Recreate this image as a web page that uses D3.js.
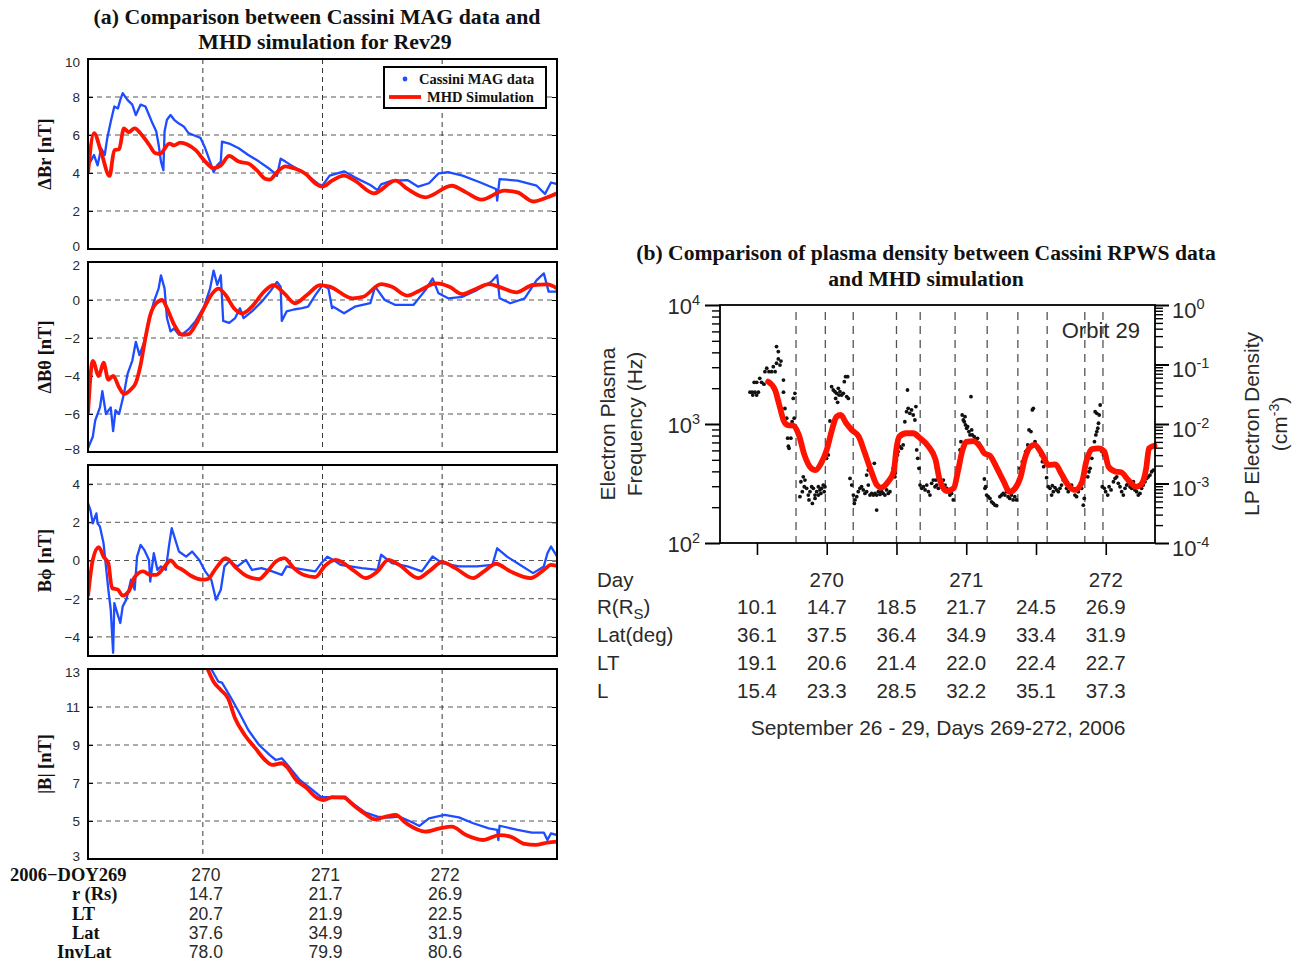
<!DOCTYPE html>
<html>
<head>
<meta charset="utf-8">
<script src="https://cdn.jsdelivr.net/npm/d3@7"></script>
<style>
body { margin: 0; background: #fff; }
.serif { font-family: "Liberation Serif", "Times New Roman", serif; font-weight: bold; fill: #111; }
.sans { font-family: "Liberation Sans", Arial, sans-serif; fill: #2a2a2a; }
</style>
</head>
<body>
<div id="chart"></div>
<script>
// ---- (a) MAG vs MHD, x in day of year 2006 ----
var brTicks = [0, 2, 4, 6, 8, 10];
var bthTicks = [-8, -6, -4, -2, 0, 2];
var bphTicks = [-4, -2, 0, 2, 4];
var bTicks = [3, 5, 7, 9, 11, 13];
var magDayTicks = [270, 271, 272];

var brMag = [[269.04,4.95],[269.06,4.6],[269.09,4.95],[269.12,4.4],[269.15,5.3],[269.18,4.95],[269.20,5.8],[269.23,6.7],[269.26,7.5],[269.29,7.4],[269.31,7.85],[269.33,8.2],[269.37,7.85],[269.41,7.6],[269.44,7.05],[269.48,7.6],[269.52,7.5],[269.55,7.05],[269.58,6.6],[269.61,6.2],[269.63,5.5],[269.65,4.6],[269.67,4.15],[269.68,6.2],[269.70,6.8],[269.73,7.05],[269.76,6.8],[269.80,6.6],[269.84,6.45],[269.88,6.1],[269.94,5.95],[269.98,5.85],[270.02,5.3],[270.06,4.6],[270.09,4.05],[270.12,4.4],[270.15,4.6],[270.16,5.65],[270.22,5.55],[270.30,5.3],[270.38,4.95],[270.47,4.6],[270.55,4.25],[270.59,4.05],[270.62,3.85],[270.65,4.75],[270.69,4.6],[270.74,4.4],[270.81,4.15],[270.88,3.85],[270.97,3.4],[271.0,3.35],[271.06,3.86],[271.18,4.09],[271.27,3.77],[271.40,3.37],[271.46,3.1],[271.49,3.4],[271.58,3.6],[271.71,3.63],[271.80,3.28],[271.89,3.46],[271.97,3.98],[272.05,4.04],[272.17,3.86],[272.32,3.5],[272.45,3.16],[272.46,2.55],[272.48,3.68],[272.63,3.6],[272.79,3.33],[272.86,2.9],[272.91,3.5],[272.96,3.42]];
var brMhd = [[269.04,4.0],[269.09,6.1],[269.15,5.1],[269.22,3.85],[269.26,5.2],[269.30,5.25],[269.34,6.35],[269.38,6.15],[269.43,6.35],[269.49,6.0],[269.55,5.5],[269.60,5.05],[269.64,5.0],[269.72,5.55],[269.76,5.45],[269.81,5.6],[269.87,5.5],[269.94,5.2],[270.02,4.6],[270.09,4.25],[270.15,4.4],[270.22,4.9],[270.30,4.6],[270.38,4.5],[270.45,4.15],[270.52,3.7],[270.56,3.65],[270.62,4.05],[270.69,4.35],[270.76,4.25],[270.86,3.95],[270.94,3.45],[271.0,3.28],[271.08,3.6],[271.18,3.86],[271.27,3.6],[271.43,2.93],[271.61,3.6],[271.71,3.16],[271.86,2.72],[272.08,3.33],[272.20,2.98],[272.33,2.6],[272.52,3.07],[272.63,2.98],[272.76,2.5],[272.88,2.72],[272.96,2.93]];

var bthMag = [[269.04,-7.8],[269.08,-7.2],[269.10,-6.35],[269.14,-5.65],[269.16,-4.8],[269.19,-6.0],[269.23,-5.65],[269.25,-6.9],[269.27,-5.8],[269.30,-6.0],[269.34,-4.95],[269.37,-3.9],[269.41,-3.2],[269.44,-2.2],[269.47,-2.9],[269.51,-2.2],[269.55,-1.1],[269.59,-0.1],[269.63,0.6],[269.65,1.3],[269.68,0.6],[269.70,-0.95],[269.73,-1.65],[269.76,-1.5],[269.80,-1.83],[269.84,-1.75],[269.88,-1.55],[269.94,-1.1],[270.01,-0.35],[270.06,0.6],[270.09,1.55],[270.12,0.8],[270.15,1.3],[270.17,-1.1],[270.22,-1.2],[270.27,-0.95],[270.31,-0.43],[270.34,-0.95],[270.41,-0.6],[270.49,-0.1],[270.56,0.43],[270.62,0.95],[270.65,0.7],[270.66,-1.1],[270.70,-0.6],[270.76,-0.5],[270.83,-0.43],[270.88,-0.35],[270.94,0.26],[271.0,0.78],[271.05,0.6],[271.08,-0.43],[271.09,-0.35],[271.18,-0.7],[271.27,-0.35],[271.40,-0.17],[271.44,0.7],[271.52,0.0],[271.61,-0.26],[271.76,-0.26],[271.86,0.52],[271.92,1.13],[271.97,0.35],[272.05,0.09],[272.17,0.17],[272.29,0.52],[272.41,0.96],[272.46,1.3],[272.48,0.09],[272.57,-0.17],[272.69,0.09],[272.79,1.05],[272.85,1.4],[272.89,0.44],[272.96,0.44]];
var bthMhd = [[269.04,-6.0],[269.08,-3.2],[269.13,-4.0],[269.17,-3.3],[269.21,-4.2],[269.25,-4.0],[269.30,-4.6],[269.34,-4.95],[269.40,-4.7],[269.44,-4.35],[269.48,-3.4],[269.52,-2.0],[269.56,-0.8],[269.61,-0.17],[269.66,0.0],[269.70,-0.43],[269.76,-1.3],[269.83,-1.83],[269.88,-1.8],[269.94,-1.3],[270.01,-0.43],[270.08,0.35],[270.13,0.6],[270.19,0.26],[270.26,-0.43],[270.33,-0.7],[270.41,-0.35],[270.51,0.43],[270.59,0.78],[270.68,0.35],[270.77,-0.17],[270.87,0.26],[270.98,0.78],[271.06,0.7],[271.25,0.09],[271.34,0.17],[271.49,0.84],[271.58,0.7],[271.71,0.23],[271.81,0.49],[271.95,0.87],[272.06,0.7],[272.17,0.31],[272.29,0.61],[272.39,0.84],[272.51,0.61],[272.62,0.4],[272.76,0.79],[272.88,0.82],[272.96,0.61]];

var bphMag = [[269.04,3.0],[269.06,2.64],[269.08,1.95],[269.11,2.47],[269.12,1.95],[269.14,1.77],[269.17,0.9],[269.19,-0.31],[269.21,-1.53],[269.23,-2.57],[269.25,-4.83],[269.26,-2.23],[269.28,-2.66],[269.31,-3.27],[269.33,-2.4],[269.36,-2.05],[269.38,-1.53],[269.40,-1.0],[269.43,-1.53],[269.45,0.2],[269.48,0.82],[269.51,0.56],[269.55,0.03],[269.56,-1.1],[269.59,0.38],[269.62,-0.49],[269.65,-0.31],[269.69,-0.49],[269.72,0.9],[269.74,1.69],[269.77,1.08],[269.80,0.47],[269.86,0.2],[269.91,0.47],[269.97,0.03],[270.02,-0.57],[270.07,-1.0],[270.11,-2.05],[270.15,-1.53],[270.18,-0.31],[270.22,-0.05],[270.29,-0.31],[270.36,0.03],[270.41,-0.49],[270.49,-0.4],[270.58,-0.57],[270.66,-0.75],[270.70,-0.31],[270.77,-0.4],[270.86,-0.49],[270.94,-0.57],[270.99,-0.14],[271.04,0.2],[271.09,0.03],[271.15,-0.23],[271.33,-0.4],[271.46,-0.49],[271.49,0.3],[271.58,-0.14],[271.71,-0.31],[271.83,-0.57],[271.92,0.21],[272.0,-0.14],[272.14,-0.31],[272.29,-0.31],[272.42,-0.23],[272.46,0.64],[272.54,0.21],[272.63,-0.14],[272.76,-0.66],[272.85,-0.31],[272.88,0.38],[272.91,0.73],[272.96,0.21]];
var bphMhd = [[269.04,-1.88],[269.08,0.03],[269.13,0.7],[269.17,0.2],[269.21,-0.14],[269.24,-1.44],[269.29,-1.53],[269.33,-1.84],[269.38,-1.62],[269.43,-0.87],[269.50,-0.57],[269.56,-0.75],[269.61,-0.75],[269.67,-0.4],[269.73,0.0],[269.78,-0.31],[269.83,-0.49],[269.90,-0.8],[269.99,-1.0],[270.04,-0.97],[270.11,-0.4],[270.19,0.12],[270.28,-0.4],[270.37,-0.83],[270.47,-0.97],[270.54,-0.57],[270.61,-0.05],[270.68,0.12],[270.76,-0.4],[270.84,-0.75],[270.94,-0.87],[271.02,-0.28],[271.11,0.03],[271.27,-0.57],[271.36,-0.92],[271.46,-0.57],[271.55,0.03],[271.64,-0.23],[271.80,-0.92],[271.89,-0.57],[272.0,-0.09],[272.11,-0.4],[272.26,-0.92],[272.35,-0.57],[272.45,-0.17],[272.57,-0.57],[272.74,-0.92],[272.85,-0.49],[272.91,-0.23],[272.96,-0.28]];

var bMag = [[270.05,13.4],[270.07,13.0],[270.13,12.33],[270.16,12.28],[270.23,11.54],[270.30,10.75],[270.38,9.79],[270.47,9.0],[270.56,8.47],[270.61,8.21],[270.66,8.3],[270.72,7.86],[270.81,7.16],[270.90,6.72],[270.99,6.25],[271.08,6.25],[271.19,6.28],[271.27,5.84],[271.36,5.44],[271.46,5.23],[271.55,5.18],[271.64,5.23],[271.74,4.96],[271.81,4.74],[271.89,5.14],[272.02,5.32],[272.14,5.19],[272.26,4.88],[272.39,4.61],[272.46,4.53],[272.47,4.0],[272.48,4.75],[272.63,4.53],[272.75,4.39],[272.85,4.39],[272.88,4.0],[272.91,4.35],[272.96,4.26]];
var bMhd = [[270.0,13.6],[270.04,13.0],[270.09,12.33],[270.15,11.9],[270.21,11.46],[270.27,10.4],[270.35,9.53],[270.44,8.82],[270.52,8.21],[270.58,7.95],[270.66,8.04],[270.70,7.86],[270.78,7.16],[270.87,6.72],[270.94,6.28],[271.01,6.1],[271.08,6.25],[271.18,6.23],[271.24,5.93],[271.35,5.4],[271.44,5.09],[271.53,5.23],[271.61,5.32],[271.70,4.88],[271.86,4.44],[271.98,4.61],[272.08,4.7],[272.20,4.26],[272.34,4.0],[272.48,4.26],[272.57,4.18],[272.69,3.79],[272.78,3.74],[272.88,3.86],[272.96,3.91]];

var magRowLabels = ["2006\u2212DOY269", "r (Rs)", "LT", "Lat", "InvLat"];
var magRowValues = [
  ["270", "271", "272"],
  ["14.7", "21.7", "26.9"],
  ["20.7", "21.9", "22.5"],
  ["37.6", "34.9", "31.9"],
  ["78.0", "79.9", "80.6"]
];

// ---- (b) RPWS density ----
var freqMajor = [100, 1000, 10000];
var densMajor = [1e-4, 1e-3, 1e-2, 1e-1, 1];
var rpwsDayTicks = [269.5, 270, 270.5, 271, 271.5, 272];
var crossDays = [269.78, 269.99, 270.19, 270.50, 270.67, 270.92, 271.15, 271.37, 271.58, 271.85, 271.98];

var rpwsMhd = [[269.58,2270],[269.63,1930],[269.66,1445],[269.69,1080],[269.72,980],[269.76,970],[269.80,810],[269.84,550],[269.88,437],[269.92,410],[269.96,468],[270.0,605],[270.04,915],[270.07,1150],[270.10,1190],[270.14,1015],[270.18,890],[270.23,783],[270.27,585],[270.32,398],[270.36,307],[270.39,292],[270.44,327],[270.48,398],[270.50,625],[270.52,783],[270.57,836],[270.62,836],[270.67,758],[270.73,645],[270.78,500],[270.81,339],[270.86,273],[270.91,288],[270.94,398],[270.97,585],[271.0,707],[271.05,719],[271.10,645],[271.13,567],[271.17,542],[271.22,425],[271.27,327],[271.31,269],[271.35,288],[271.39,361],[271.42,513],[271.46,645],[271.49,667],[271.54,567],[271.59,452],[271.64,458],[271.68,385],[271.73,307],[271.78,279],[271.83,327],[271.86,482],[271.90,616],[271.95,625],[271.99,585],[272.02,437],[272.07,398],[272.11,393],[272.16,339],[272.22,297],[272.25,307],[272.29,425],[272.31,625],[272.35,658]];

var rpwsDots = [
  [269.45,1850],[269.466,1850],[269.486,1850],[269.47,1750],[269.498,1750],[269.51,1850],[269.48,2240],[269.498,2240],[269.52,2420],[269.533,2240],[269.55,2160],[269.557,2750],[269.57,2940],[269.586,2750],[269.605,2750],[269.617,3030],[269.63,2750],[269.64,3240],[269.653,3520],[269.665,3130],[269.64,4470],[269.653,4060],[269.672,3380],[269.69,2340],[269.69,1850],[269.70,1350],[269.713,1120],[269.72,760],[269.73,625],[269.743,760],[269.76,1640],[269.772,1810],[269.767,1120],[269.752,1045],[269.725,650],
  [269.815,327],[269.832,360],[269.844,338],[269.825,270],[269.808,245],[269.856,288],[269.868,253],[269.88,270],[269.892,297],[269.904,288],[269.916,253],[269.928,270],[269.94,297],[269.951,279],[269.963,288],[269.975,307],[269.987,297],[269.873,230],[269.897,215],[269.916,237],[269.94,253],[269.839,297],[269.958,261],[269.982,270],[269.999,515],[270.011,550],
  [270.035,2060],[270.047,1930],[270.059,1870],[270.071,1810],[270.083,1995],[270.095,1870],[270.107,1750],[270.119,1810],[270.126,2270],[270.135,2500],[270.15,2500],[270.064,1640],[270.078,1520],[270.088,1750],[270.143,1700],[270.155,1640],[270.023,1060],
  [270.167,349],[270.179,307],[270.191,253],[270.203,230],[270.215,245],[270.226,270],[270.238,288],[270.25,297],[270.262,279],[270.274,261],[270.286,270],[270.298,307],[270.31,253],[270.322,261],[270.334,253],[270.346,261],[270.358,253],[270.37,270],[270.382,256],[270.394,270],[270.405,261],[270.417,253],[270.429,279],[270.441,261],[270.453,270],[270.198,215],[270.358,189],[270.286,372],[270.298,410],[270.341,467],
  [270.477,424],[270.489,360],[270.5,499],[270.507,550],[270.512,586],[270.524,645],[270.536,625],[270.548,667],[270.56,1045],[270.572,1270],[270.579,1930],[270.584,1354],[270.596,1230],[270.608,1313],[270.62,1190],[270.632,1080],[270.639,1400],[270.489,384],
  [270.645,605],[270.652,515],[270.661,424],[270.669,307],[270.681,288],[270.693,297],[270.705,279],[270.717,307],[270.729,270],[270.74,253],[270.752,317],[270.764,338],[270.776,297],[270.788,307],[270.8,288],
  [270.788,424],[270.8,360],[270.812,327],[270.824,297],[270.836,338],[270.848,307],[270.86,288],[270.872,270],[270.883,253],[270.895,261],[270.907,230],[270.783,338],
  [270.955,605],[270.962,711],[270.971,1190],[270.979,1080],[270.986,1045],[270.995,982],[271.003,921],[271.01,951],[271.019,863],[271.027,809],[271.039,891],[271.043,809],[271.057,783],[271.063,735],[271.074,711],[271.081,758],[271.091,689],[271.098,667],[271.105,625],[271.115,586],[271.034,1698],[270.991,1153],
  [271.13,345],[271.134,288],[271.139,297],[271.146,253],[271.158,245],[271.17,237],[271.182,222],[271.194,215],[271.206,208],[271.218,206],[271.241,245],[271.253,253],[271.265,261],[271.277,253],[271.289,270],[271.3,245],[271.312,237],[271.324,253],[271.336,230],[271.348,245],[271.36,230],
  [271.385,424],[271.402,482],[271.417,515],[271.426,586],[271.441,667],[271.45,891],[271.464,863],[271.474,1313],[271.481,1354],[271.493,711],[271.505,645],[271.517,625],[271.529,586],[271.536,550],[271.546,482],[271.555,438],
  [271.576,354],[271.588,297],[271.6,288],[271.612,253],[271.617,303],[271.624,270],[271.636,292],[271.648,279],[271.66,270],[271.672,288],[271.683,307],[271.695,338],[271.707,327],[271.719,288],[271.731,270],[271.743,297],[271.755,307],[271.767,279],[271.779,253],[271.791,245],[271.803,270],[271.827,288],[271.839,208],[271.846,237],
  [271.871,360],[271.88,397],[271.888,424],[271.9,515],[271.912,625],[271.919,711],[271.929,809],[271.936,863],[271.943,921],[271.948,1015],[271.953,1190],[271.924,1270],[271.936,1230],[271.96,1445],[271.972,586],[271.984,550],
  [271.975,297],[271.99,288],[271.999,270],[272.014,253],[272.024,297],[272.038,279],[272.055,327],[272.067,349],[272.079,360],[272.09,317],[272.102,297],[272.114,270],[272.126,253],[272.138,288],[272.15,307],[272.162,317],[272.174,297],[272.186,288],[272.198,327],[272.209,279],[272.221,270],[272.233,253],[272.245,261],[272.257,288],[272.269,307],[272.281,327],[272.293,349],[272.305,360],[272.317,372],[272.329,397],[272.341,410],[272.086,397]
];

var rpwsRowLabels = ["Day", "R(R", "Lat(deg)", "LT", "L"];
var rpwsDayLabels = [["270", 270], ["271", 271], ["272", 272]];
var rpwsRowValues = [
  ["10.1", "14.7", "18.5", "21.7", "24.5", "26.9"],
  ["36.1", "37.5", "36.4", "34.9", "33.4", "31.9"],
  ["19.1", "20.6", "21.4", "22.0", "22.4", "22.7"],
  ["15.4", "23.3", "28.5", "32.2", "35.1", "37.3"]
];

var W = 1302, H = 962;
var BLUE = "#1e4cff", RED = "#ff1200";

var svg = d3.select("#chart").append("svg")
  .attr("width", W)
  .attr("height", H);

// ================= panel (a) =================
var magX = d3.scaleLinear().domain([269.04, 272.96]).range([88, 557]);

svg.append("text").attr("class", "serif")
  .attr("x", 317).attr("y", 24).attr("text-anchor", "middle")
  .style("font-size", "21.8px")
  .text("(a) Comparison between Cassini MAG data and");
svg.append("text").attr("class", "serif")
  .attr("x", 325).attr("y", 49).attr("text-anchor", "middle")
  .style("font-size", "21.8px")
  .text("MHD simulation for Rev29");

var magPanels = [
  { label: "\u0394Br [nT]", ticks: brTicks, top: 59, bottom: 249, mag: brMag, mhd: brMhd },
  { label: "\u0394B\u03b8 [nT]", ticks: bthTicks, top: 262, bottom: 452, mag: bthMag, mhd: bthMhd },
  { label: "B\u03d5 [nT]", ticks: bphTicks, top: 465, bottom: 656, mag: bphMag, mhd: bphMhd, domain: [-5, 5] },
  { label: "|B| [nT]", ticks: bTicks, top: 669, bottom: 859, mag: bMag, mhd: bMhd }
];

function fmtMinus (v) {
  return v < 0 ? "\u2212" + Math.abs(v) : String(v);
}

magPanels.forEach(function (p, i) {
  var dom = p.domain || [d3.min(p.ticks), d3.max(p.ticks)];
  var y = d3.scaleLinear().domain(dom).range([p.bottom, p.top]);
  var g = svg.append("g");
  var clipId = "clip" + i;

  g.append("clipPath").attr("id", clipId)
    .append("rect")
    .attr("x", magX.range()[0]).attr("y", p.top)
    .attr("width", magX.range()[1] - magX.range()[0])
    .attr("height", p.bottom - p.top);

  // dashed grid
  g.selectAll(".hgrid")
    .data(p.ticks.filter(function (t) { return t > dom[0] && t < dom[1]; }))
    .enter().append("line")
    .attr("x1", magX.range()[0]).attr("x2", magX.range()[1])
    .attr("y1", function (d) { return y(d); })
    .attr("y2", function (d) { return y(d); })
    .attr("stroke", "#444").attr("stroke-width", 0.9)
    .attr("stroke-dasharray", "5,4");

  g.selectAll(".vgrid")
    .data(magDayTicks)
    .enter().append("line")
    .attr("x1", function (d) { return magX(d); })
    .attr("x2", function (d) { return magX(d); })
    .attr("y1", p.top).attr("y2", p.bottom)
    .attr("stroke", "#222").attr("stroke-width", 0.9)
    .attr("stroke-dasharray", "5,4");

  // ticks both sides, pointing inward
  var left = g.append("g")
    .attr("transform", "translate(" + magX.range()[0] + ",0)")
    .call(d3.axisLeft(y).tickValues(p.ticks).tickSizeInner(-5).tickSizeOuter(0).tickPadding(8).tickFormat(fmtMinus));
  left.select(".domain").remove();
  left.selectAll("text").attr("class", "sans").style("font-size", "13.5px").attr("fill", "#333")
    .attr("dy", function (d) {
      // keep the labels that sit on a panel edge apart from the neighbour panel's
      if (d === dom[0]) return "0.12em";
      if (d === dom[1]) return "0.52em";
      return "0.32em";
    });

  var right = g.append("g")
    .attr("transform", "translate(" + magX.range()[1] + ",0)")
    .call(d3.axisRight(y).tickValues(p.ticks).tickSizeInner(-5).tickSizeOuter(0).tickFormat(""));
  right.select(".domain").remove();

  var lines = g.append("g").attr("clip-path", "url(#" + clipId + ")");

  lines.append("path")
    .datum(p.mag)
    .attr("fill", "none")
    .attr("stroke", BLUE)
    .attr("stroke-width", 2.3)
    .attr("stroke-linejoin", "round")
    .attr("d", d3.line().x(function (d) { return magX(d[0]); }).y(function (d) { return y(d[1]); }));

  lines.append("path")
    .datum(p.mhd)
    .attr("fill", "none")
    .attr("stroke", RED)
    .attr("stroke-width", 3.8)
    .attr("stroke-linejoin", "round")
    .attr("d", d3.line().curve(d3.curveMonotoneX)
      .x(function (d) { return magX(d[0]); }).y(function (d) { return y(d[1]); }));

  g.append("rect")
    .attr("x", magX.range()[0]).attr("y", p.top)
    .attr("width", magX.range()[1] - magX.range()[0])
    .attr("height", p.bottom - p.top)
    .attr("fill", "none").attr("stroke", "#000").attr("stroke-width", 2);

  g.append("text").attr("class", "serif")
    .attr("transform", "translate(51," + ((p.top + p.bottom) / 2) + ") rotate(-90)")
    .attr("text-anchor", "middle")
    .style("font-size", "18.5px")
    .text(p.label);

  if (i === 0) {
    var lg = g.append("g");
    lg.append("rect")
      .attr("x", 384).attr("y", 67).attr("width", 162).attr("height", 41)
      .attr("fill", "#fff").attr("stroke", "#000").attr("stroke-width", 2);
    lg.append("circle").attr("cx", 405).attr("cy", 79).attr("r", 2.4).attr("fill", BLUE);
    lg.append("text").attr("class", "serif").attr("x", 419).attr("y", 84)
      .style("font-size", "14.5px").text("Cassini MAG data");
    lg.append("line").attr("x1", 389).attr("x2", 421).attr("y1", 97).attr("y2", 97)
      .attr("stroke", RED).attr("stroke-width", 3.8);
    lg.append("text").attr("class", "serif").attr("x", 427).attr("y", 102)
      .style("font-size", "14.5px").text("MHD Simulation");
  }
});

// table under (a)
var labelLeft = [10, 72, 72, 72, 57];
magRowLabels.forEach(function (lab, r) {
  var yy = 881 + r * 19.3;
  svg.append("text").attr("class", "serif")
    .attr("x", labelLeft[r]).attr("y", yy)
    .style("font-size", "18.5px")
    .text(lab);
  svg.selectAll(null)
    .data(magRowValues[r])
    .enter().append("text")
    .attr("class", "sans")
    .attr("x", function (d, k) { return magX(magDayTicks[k]) + 3; })
    .attr("y", yy)
    .attr("text-anchor", "middle")
    .style("font-size", "17.5px")
    .text(function (d) { return d; });
});

// ================= panel (b) =================
var bx = d3.scaleLinear().domain([269.235, 272.353]).range([720, 1155]);
var by = d3.scaleLog().domain([100, 10000]).range([543, 305]);
var bn = d3.scaleLog().domain([1e-4, 1]).range([543, 305]);

svg.append("text").attr("class", "serif")
  .attr("x", 926).attr("y", 260).attr("text-anchor", "middle")
  .style("font-size", "21.6px")
  .text("(b) Comparison of plasma density between Cassini RPWS data");
svg.append("text").attr("class", "serif")
  .attr("x", 926).attr("y", 286).attr("text-anchor", "middle")
  .style("font-size", "21.6px")
  .text("and MHD simulation");

var gb = svg.append("g");

gb.selectAll(".cross")
  .data(crossDays)
  .enter().append("line")
  .attr("x1", function (d) { return bx(d); })
  .attr("x2", function (d) { return bx(d); })
  .attr("y1", 312).attr("y2", 543)
  .attr("stroke", "#555").attr("stroke-width", 1.3)
  .attr("stroke-dasharray", "8,6");

gb.selectAll(".dot")
  .data(rpwsDots)
  .enter().append("circle")
  .attr("cx", function (d) { return bx(d[0]); })
  .attr("cy", function (d) { return by(d[1]); })
  .attr("r", 1.9)
  .attr("fill", "#111");

gb.append("path")
  .datum(rpwsMhd)
  .attr("fill", "none")
  .attr("stroke", RED)
  .attr("stroke-width", 5.8)
  .attr("stroke-linecap", "round")
  .attr("stroke-linejoin", "round")
  .attr("d", d3.line().curve(d3.curveMonotoneX)
    .x(function (d) { return bx(d[0]); }).y(function (d) { return by(d[1]); }));

gb.append("rect")
  .attr("x", 720).attr("y", 305).attr("width", 435).attr("height", 238)
  .attr("fill", "none").attr("stroke", "#000").attr("stroke-width", 1.8);

function logMinor (lo, hi) {
  var out = [];
  for (var e = lo; e < hi; e++) {
    for (var m = 2; m <= 9; m++) out.push(m * Math.pow(10, e));
  }
  return out;
}

function supLabels (sel, anchor) {
  sel.each(function (d) {
    var t = d3.select(this);
    var ex = Math.round(Math.log10(d));
    t.text("").attr("text-anchor", anchor).attr("class", "sans").style("font-size", "22px").attr("fill", "#333");
    t.append("tspan").text("10");
    t.append("tspan").attr("dy", "-9").style("font-size", "14.5px").text(ex);
  });
}

var lMinor = gb.append("g").attr("transform", "translate(720,0)")
  .call(d3.axisLeft(by).tickValues(logMinor(2, 4)).tickSize(8).tickFormat(""));
lMinor.select(".domain").remove();
lMinor.selectAll("line").attr("stroke-width", 1.4);

var lMajor = gb.append("g").attr("transform", "translate(720,0)")
  .call(d3.axisLeft(by).tickValues(freqMajor).tickSize(15).tickPadding(5));
lMajor.select(".domain").remove();
lMajor.selectAll("line").attr("stroke-width", 2);
supLabels(lMajor.selectAll("text").attr("dy", "0.4em"), "end");

var rMinor = gb.append("g").attr("transform", "translate(1155,0)")
  .call(d3.axisRight(bn).tickValues(logMinor(-4, 0)).tickSize(8).tickFormat(""));
rMinor.select(".domain").remove();
rMinor.selectAll("line").attr("stroke-width", 1.4);

var rMajor = gb.append("g").attr("transform", "translate(1155,0)")
  .call(d3.axisRight(bn).tickValues(densMajor).tickSize(14).tickPadding(3));
rMajor.select(".domain").remove();
rMajor.selectAll("line").attr("stroke-width", 2);
supLabels(rMajor.selectAll("text").attr("dy", "0.55em"), "start");

var bAxis = gb.append("g").attr("transform", "translate(0,543)")
  .call(d3.axisBottom(bx).tickValues(rpwsDayTicks).tickSize(12).tickFormat(""));
bAxis.select(".domain").remove();
bAxis.selectAll("line").attr("stroke-width", 1.6);

gb.append("text").attr("class", "sans")
  .attr("x", 1140).attr("y", 338).attr("text-anchor", "end")
  .style("font-size", "22px").attr("fill", "#222")
  .text("Orbit 29");

// axis titles
function vText (x, yc, txt) {
  return gb.append("text").attr("class", "sans")
    .attr("transform", "translate(" + x + "," + yc + ") rotate(-90)")
    .attr("text-anchor", "middle")
    .style("font-size", "21px").attr("fill", "#3a3a3a")
    .text(txt);
}
vText(615, 424, "Electron Plasma");
vText(642, 424, "Frequency  (Hz)");
vText(1259, 424, "LP Electron Density");
var cm = vText(1287, 424, "(cm");
cm.append("tspan").attr("dy", "-8").style("font-size", "14px").text("-3");
cm.append("tspan").attr("dy", "8").text(")");

// table under (b)
var rowY = [587, 614, 642, 670, 698];
rpwsRowLabels.forEach(function (lab, r) {
  var t = svg.append("text").attr("class", "sans")
    .attr("x", 597).attr("y", rowY[r])
    .style("font-size", "20.5px")
    .text(lab);
  if (r === 1) {
    t.append("tspan").attr("dy", "5").style("font-size", "15px").text("S");
    t.append("tspan").attr("dy", "-5").text(")");
  }
});

svg.selectAll(".dayLab")
  .data(rpwsDayLabels)
  .enter().append("text")
  .attr("class", "sans")
  .attr("x", function (d) { return bx(d[1]); })
  .attr("y", rowY[0])
  .attr("text-anchor", "middle")
  .style("font-size", "20.5px")
  .text(function (d) { return d[0]; });

rpwsRowValues.forEach(function (vals, r) {
  svg.selectAll(null)
    .data(vals)
    .enter().append("text")
    .attr("class", "sans")
    .attr("x", function (d, k) { return bx(rpwsDayTicks[k]); })
    .attr("y", rowY[r + 1])
    .attr("text-anchor", "middle")
    .style("font-size", "20.5px")
    .text(function (d) { return d; });
});

svg.append("text").attr("class", "sans")
  .attr("x", 938).attr("y", 735).attr("text-anchor", "middle")
  .style("font-size", "21px")
  .text("September 26 - 29, Days 269-272, 2006");
</script>
</body>
</html>
